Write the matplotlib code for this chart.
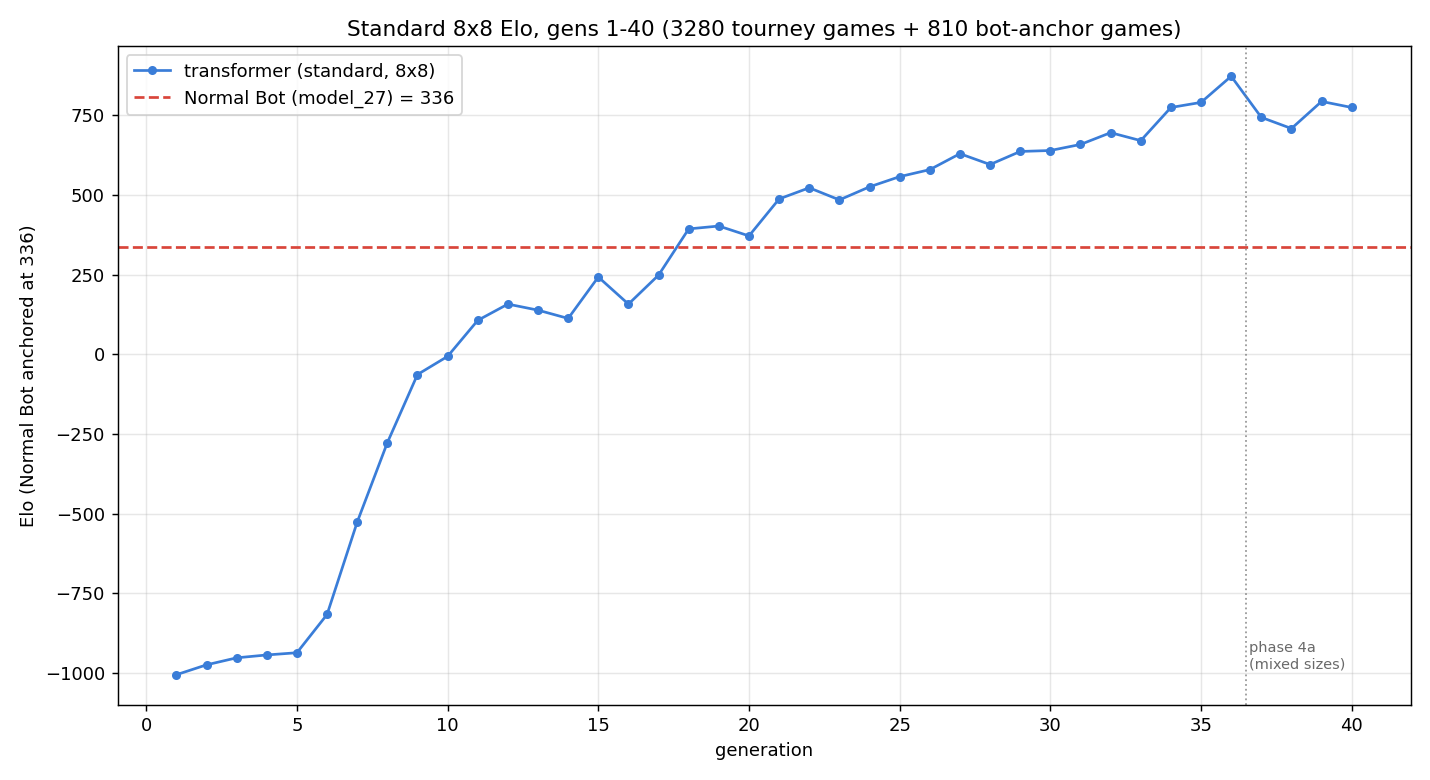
import matplotlib
matplotlib.use("Agg")
import matplotlib.pyplot as plt

gens = list(range(1, 41))
elo = [-1005, -974, -952, -943, -936, -816, -526, -277, -63, -6,
       107, 158, 139, 113, 243, 158, 249, 394, 403, 372,
       488, 523, 485, 526, 558, 580, 630, 596, 637, 640,
       659, 696, 671, 775, 791, 873, 744, 709, 794, 775]
BOT_ELO = 336
PHASE_X = 36.5

fig, ax = plt.subplots(figsize=(11, 6), dpi=130)
ax.plot(gens, elo, "-o", color="#3a7dd8", lw=1.5, ms=4, label="transformer (standard, 8x8)")
ax.axhline(BOT_ELO, color="#d9453a", ls="--", lw=1.5, label=f"Normal Bot (model_27) = {BOT_ELO}")
ax.axvline(PHASE_X, color="gray", ls=":", lw=1, alpha=0.8)
ax.text(PHASE_X + 0.1, -995, "phase 4a\n(mixed sizes)", fontsize=8, color="dimgray", va="bottom")
ax.set_xlabel("generation")
ax.set_ylabel("Elo (Normal Bot anchored at 336)")
ax.set_title("Standard 8x8 Elo, gens 1-40 (3280 tourney games + 810 bot-anchor games)")
ax.grid(alpha=0.3)
ax.legend(loc="upper left")
fig.tight_layout()
fig.savefig("out.png")
